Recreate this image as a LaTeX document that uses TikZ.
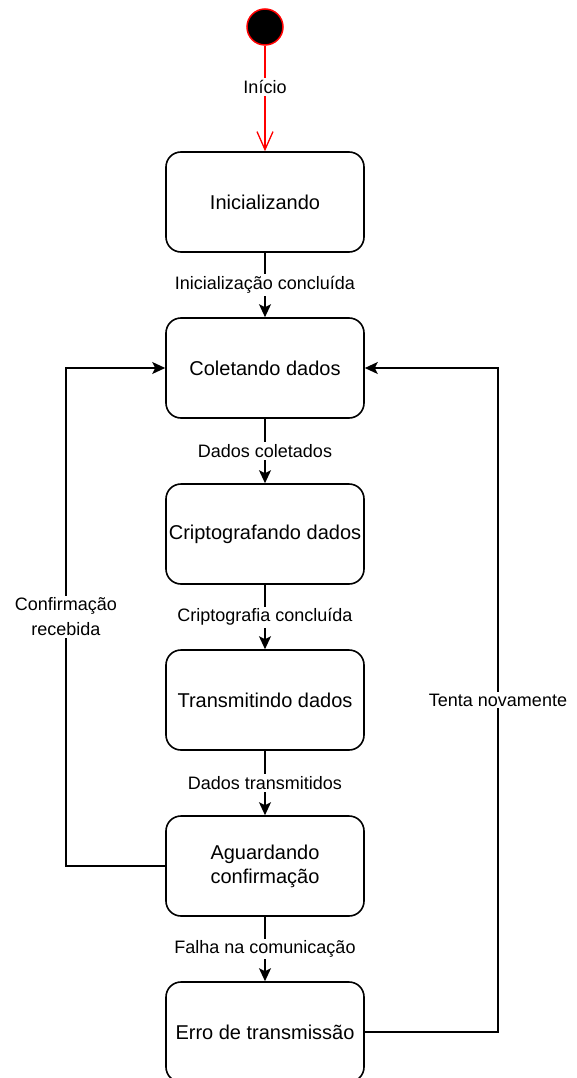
\documentclass[tikz,border=0pt]{standalone}
\usepackage{fontspec}
\setmainfont{Liberation Sans}
\usetikzlibrary{arrows.meta}
\begin{document}
\begin{tikzpicture}[x=1pt,y=-1pt,
  state/.style={draw=black,line width=1.6pt,rounded corners=15pt,fill=white,
    minimum width=198pt,minimum height=100pt,align=center,inner sep=2pt,
    font=\fontsize{20}{24}\selectfont},
  lbl/.style={fill=white,inner sep=2pt,align=center,font=\fontsize{18}{25}\selectfont},
  conn/.style={draw=black,line width=1.6pt,-{Stealth[length=13pt,width=12pt,inset=3pt]}},
  startarrow/.style={draw=red,line width=1.3pt,-{Straight Barb[length=18pt,width=16pt,line width=1.3pt]}}]
\useasboundingbox (0,0) rectangle (576,1078);
\node[circle,draw=red,fill=black,line width=1.5pt,minimum size=36pt,inner sep=0pt] (start) at (265,27) {};
\node[state] (init) at (265,202) {Inicializando};
\node[state] (col) at (265,368) {Coletando dados};
\node[state] (cri) at (265,534) {Criptografando dados};
\node[state] (tra) at (265,700) {Transmitindo dados};
\node[state] (agu) at (265,866) {Aguardando\\confirmação};
\node[state] (err) at (265,1032) {Erro de transmissão};
\coordinate (lt) at (66,368);
\coordinate (lb) at (66,866);
\coordinate (rt) at (498,368);
\coordinate (rb) at (498,1032);
\draw[startarrow] (start) -- (init) node[lbl,pos=0.39,text=black] {Início};
\draw[conn] (init) -- (col) node[lbl,midway] {Inicialização concluída};
\draw[conn] (col) -- (cri) node[lbl,midway] {Dados coletados};
\draw[conn] (cri) -- (tra) node[lbl,midway] {Criptografia concluída};
\draw[conn] (tra) -- (agu) node[lbl,midway] {Dados transmitidos};
\draw[conn] (agu) -- (err) node[lbl,midway] {Falha na comunicação};
\draw[conn] (agu.west) -- (lb) -- (lt) -- (col.west);
\node[lbl] (lconf) at (66,617) {Confirmação\\recebida};
\draw[conn] (err.east) -- (rb) -- (rt) -- (col.east);
\node[lbl] (lten) at (498,700) {Tenta novamente};
\end{tikzpicture}
\end{document}
